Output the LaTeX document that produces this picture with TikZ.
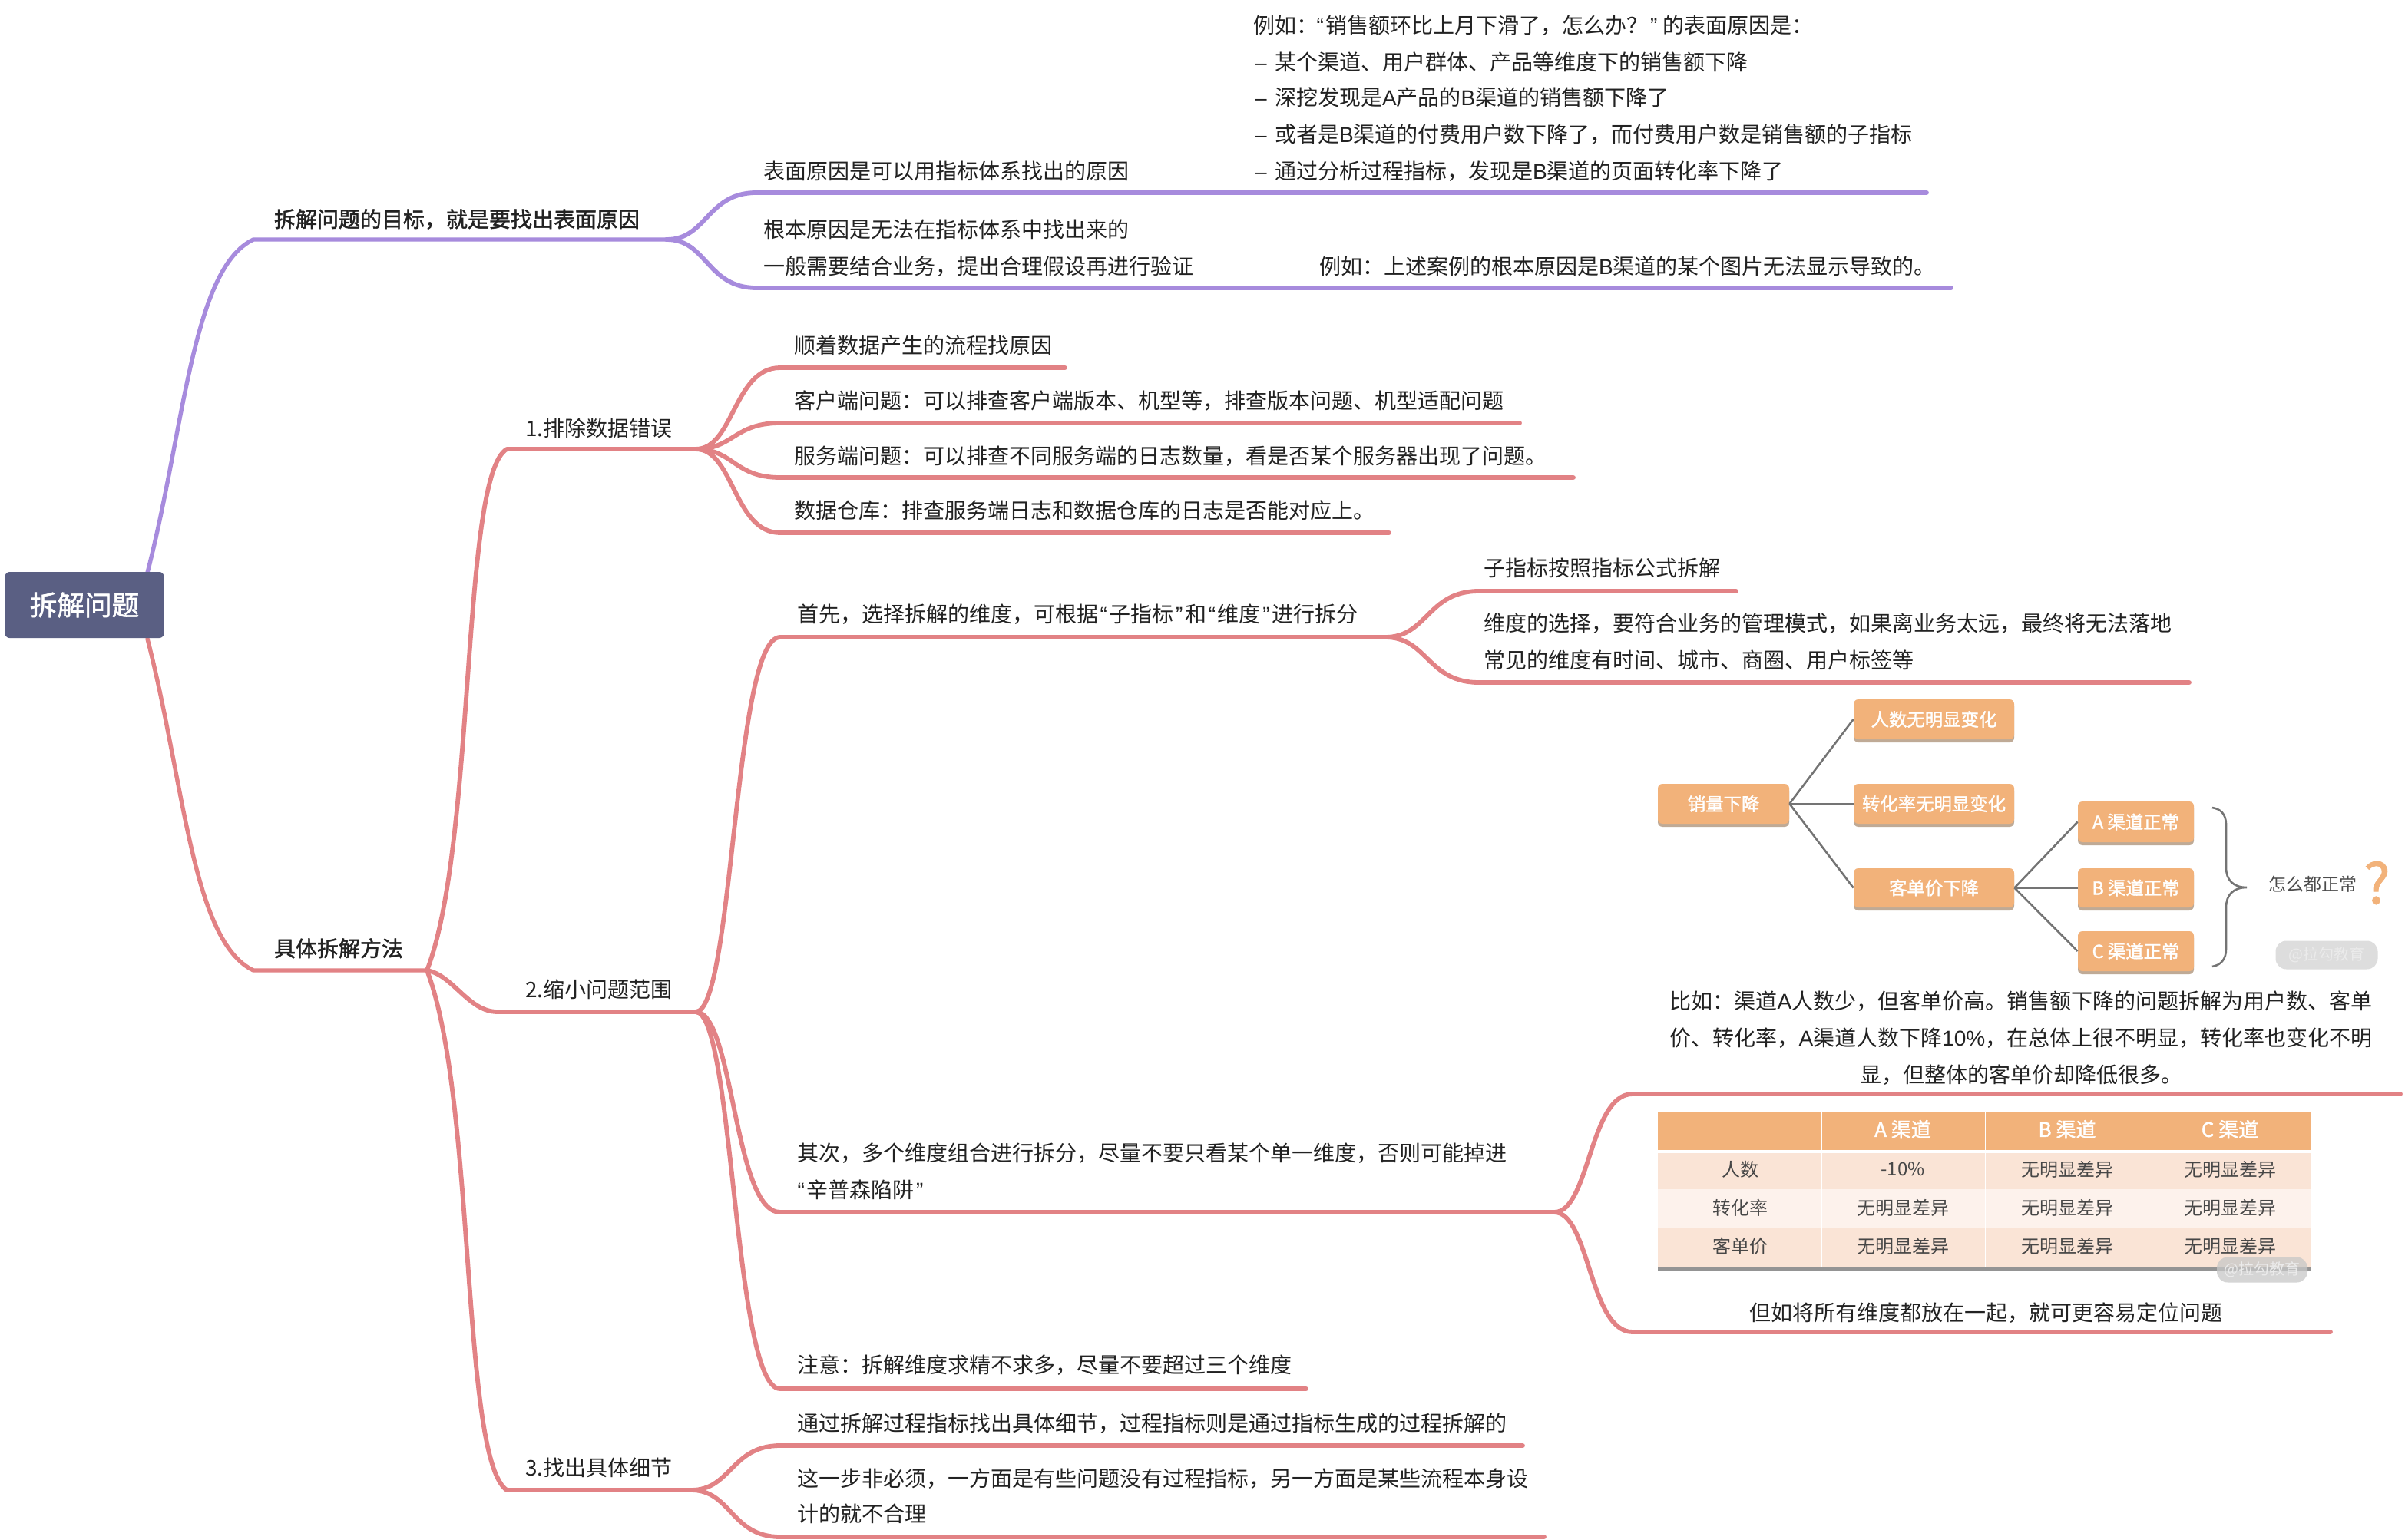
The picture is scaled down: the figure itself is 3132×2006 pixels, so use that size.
\documentclass[tikz,border=0pt]{standalone}
\usepackage{fontspec}
\setmainfont{Noto Sans CJK SC}
\newfontfamily\medf[FakeBold=1.6]{Noto Sans CJK SC}
\newfontfamily\liber{Liberation Sans}
\usetikzlibrary{calc}
\definecolor{purp}{HTML}{A78BDD}
\definecolor{redl}{HTML}{E28285}
\definecolor{rootc}{HTML}{5A5F83}
\definecolor{ora}{HTML}{F2B27A}
\definecolor{orad}{HTML}{BFAA96}
\definecolor{rowa}{HTML}{FAE4D6}
\definecolor{rowb}{HTML}{FDF2EC}
\definecolor{tcol}{HTML}{222222}
\definecolor{flowl}{HTML}{747474}
\definecolor{wmgrey}{HTML}{DDDDDD}
\newcommand{\lat}[1]{{\liber #1}}
\newcommand{\qo}{\makebox[0.52em][c]{\liber “}}
\newcommand{\qc}{\makebox[0.52em][c]{\liber ”}}
\newcommand{\dsh}{\makebox[13pt][l]{\liber –}}
\newcommand{\mlink}[4]{\draw[mline,#4] (#1) .. controls ($(#1)!0.45!(#1-|#2)$) and ($(#2)!0.55!(#2-|#1)$) .. (#2) -- (#3);}
\tikzset{
  x=0.5pt,y=-0.5pt,
  mline/.style={line width=2.9pt,line cap=round,line join=round},
  txt/.style={anchor=base west,inner sep=0pt,outer sep=0pt,text=tcol,font=\fontsize{14}{14}\selectfont},
  txtc/.style={txt,anchor=base},
  strong/.style={font=\fontsize{14}{14}\selectfont\medf},
  flowbox/.style={rectangle,rounded corners=3pt,fill=ora,text=white,inner sep=0pt,font=\fontsize{11.7}{12}\selectfont\medf},
  flowline/.style={draw=flowl,line width=1.3pt},
  cell/.style={inner sep=0pt,text=black!72,font=\fontsize{12}{12}\selectfont},
  head/.style={inner sep=0pt,text=white,font=\fontsize{13}{13}\selectfont\medf},
  wm/.style={rectangle,rounded corners=7pt,inner sep=0pt,text=white!92!black,font=\fontsize{10}{10}\selectfont}
}
\begin{document}
\begin{tikzpicture}
\useasboundingbox (0,0) rectangle (3132,2006);
\fill[white] (0,0) rectangle (3132,2006);
% coordinates for connectors
\coordinate (a0) at (330,312); \coordinate (a1) at (868,312);
\coordinate (a2) at (985,251); \coordinate (a3) at (2509,251);
\coordinate (a4) at (985,375); \coordinate (a5) at (2541,375);
\coordinate (b0) at (330,1264); \coordinate (b1) at (556,1264);
\coordinate (c0) at (660,585); \coordinate (c1) at (906,585);
\coordinate (c2) at (648,1318); \coordinate (c3) at (906,1318);
\coordinate (c4) at (660,1941); \coordinate (c5) at (900,1941);
\foreach \n/\y/\e in {d1/479/1387,d2/551/1979,d3/622/2049,d4/694/1809}{
  \coordinate (\n) at (1016,\y); \coordinate (\n e) at (\e,\y);}
\foreach \n/\y/\e in {f1/830/1804,f2/1579/2024,f3/1809/1701}{
  \coordinate (\n) at (1016,\y); \coordinate (\n e) at (\e,\y);}
\coordinate (g1) at (1926,770); \coordinate (g1e) at (2261,770);
\coordinate (g2) at (1926,889); \coordinate (g2e) at (2851,889);
\coordinate (h1) at (2126,1425); \coordinate (h1e) at (3126,1425);
\coordinate (h2) at (2126,1735); \coordinate (h2e) at (3035,1735);
\coordinate (i1) at (1016,1883); \coordinate (i1e) at (1983,1883);
\coordinate (i2) at (1016,2002); \coordinate (i2e) at (2011,2002);
% main links
\coordinate (ru) at (192,746);
\coordinate (rd) at (192,832);
\draw[mline,purp,line width=2.7pt] (ru) .. controls (240,560) and (250,350) .. (a0) -- (a1);
\draw[mline,redl,line width=2.7pt] (rd) .. controls (240,1018) and (250,1226) .. (b0) -- (b1);
% root
\node[rectangle,rounded corners=3pt,fill=rootc,text=white,minimum width=103.5pt,minimum height=43pt,inner sep=0pt,font=\fontsize{17.8}{18}\selectfont\medf] (root) at (110,788) {拆解问题};
\mlink{a1}{a2}{a3}{purp}
\mlink{a1}{a4}{a5}{purp}
\draw[mline,redl] (b1) .. controls (620,1100) and (600,620) .. (c0) -- (c1);
\draw[mline,redl] (b1) .. controls (590,1270) and (610,1318) .. (c2) -- (c3);
\draw[mline,redl] (b1) .. controls (620,1430) and (600,1900) .. (c4) -- (c5);
\foreach \n in {d1,d2,d3,d4}{\mlink{c1}{\n}{\n e}{redl}}
\foreach \n in {f1,f2,f3}{\mlink{c3}{\n}{\n e}{redl}}
\mlink{f1e}{g1}{g1e}{redl}
\mlink{f1e}{g2}{g2e}{redl}
\mlink{f2e}{h1}{h1e}{redl}
\mlink{f2e}{h2}{h2e}{redl}
\mlink{c5}{i1}{i1e}{redl}
\mlink{c5}{i2}{i2e}{redl}
% texts
\node[txt] (t01) at (1632,44) {例如：\kern-2pt\qo 销售额环比上月下滑了，怎么办？\qc\kern2pt 的表面原因是：};
\node[txt] (t02) at (1634,92) {\dsh 某个渠道、用户群体、产品等维度下的销售额下降};
\node[txt] (t03) at (1634,138) {\dsh 深挖发现是\lat{A}产品的\lat{B}渠道的销售额下降了};
\node[txt] (t04) at (1634,186) {\dsh 或者是\lat{B}渠道的付费用户数下降了，而付费用户数是销售额的子指标};
\node[txt] (t05) at (1634,234) {\dsh 通过分析过程指标，发现是\lat{B}渠道的页面转化率下降了};
\node[txt] (t06) at (994,234) {表面原因是可以用指标体系找出的原因};
\node[txt,strong] (t07) at (357,296) {拆解问题的目标，就是要找出表面原因};
\node[txt] (t08) at (994,310) {根本原因是无法在指标体系中找出来的};
\node[txt] (t09) at (994,358) {一般需要结合业务，提出合理假设再进行验证};
\node[txt] (t10) at (1718,358) {例如：上述案例的根本原因是\lat{B}渠道的某个图片无法显示导致的。};
\node[txt] (t11) at (684,568) {1.排除数据错误};
\node[txt] (t12) at (1034,460) {顺着数据产生的流程找原因};
\node[txt] (t13) at (1034,532) {客户端问题：可以排查客户端版本、机型等，排查版本问题、机型适配问题};
\node[txt] (t14) at (1034,604) {服务端问题：可以排查不同服务端的日志数量，看是否某个服务器出现了问题。};
\node[txt] (t15) at (1034,675) {数据仓库：排查服务端日志和数据仓库的日志是否能对应上。};
\node[txt] (t16) at (1038,810) {首先，选择拆解的维度，可根据\qo 子指标\qc 和\qo 维度\qc 进行拆分};
\node[txt] (t17) at (1932,750) {子指标按照指标公式拆解};
\node[txt] (t18) at (1932,822) {维度的选择，要符合业务的管理模式，如果离业务太远，最终将无法落地};
\node[txt] (t19) at (1932,870) {常见的维度有时间、城市、商圈、用户标签等};
\node[txt,strong] (t20) at (357,1246) {具体拆解方法};
\node[txt] (t21) at (684,1299) {2.缩小问题范围};
\node[txt] (t22) at (1038,1512) {其次，多个维度组合进行拆分，尽量不要只看某个单一维度，否则可能掉进};
\node[txt] (t23) at (1036,1560) {\qo 辛普森陷阱\qc};
\node[txt] (t24) at (1038,1788) {注意：拆解维度求精不求多，尽量不要超过三个维度};
\node[txt] (t25) at (684,1922) {3.找出具体细节};
\node[txt] (t26) at (1038,1864) {通过拆解过程指标找出具体细节，过程指标则是通过指标生成的过程拆解的};
\node[txt] (t27) at (1038,1936) {这一步非必须，一方面是有些问题没有过程指标，另一方面是某些流程本身设};
\node[txt] (t28) at (1038,1982) {计的就不合理};
\node[txtc] (t29) at (2632,1314) {比如：渠道\lat{A}人数少，但客单价高。销售额下降的问题拆解为用户数、客单};
\node[txtc] (t30) at (2632,1362) {价、转化率，\lat{A}渠道人数下降\lat{10\%}，在总体上很不明显，转化率也变化不明};
\node[txtc] (t31) at (2632,1410) {显，但整体的客单价却降低很多。};
\node[txtc] (t32) at (2586,1720) {但如将所有维度都放在一起，就可更容易定位问题};
% flow chart
\foreach \n/\xa/\xb/\ya/\yb/\s in {
 sales/2159/2330/1021/1073/销量下降,
 people/2414/2623/911/963/人数无明显变化,
 conv/2414/2623/1021/1073/转化率无明显变化,
 price/2414/2623/1131/1182/客单价下降,
 cha/2706/2857/1044/1097/A 渠道正常,
 chb/2706/2857/1131/1182/B 渠道正常,
 chc/2706/2857/1213/1265/C 渠道正常}{
  \fill[orad,rounded corners=3pt] (\xa,\ya+3) rectangle (\xb,\yb+4);
  \pgfmathsetmacro{\cx}{(\xa+\xb)/2}\pgfmathsetmacro{\cy}{(\ya+\yb)/2}
  \pgfmathsetmacro{\bw}{(\xb-\xa)*0.5}\pgfmathsetmacro{\bh}{(\yb-\ya)*0.5}
  \node[flowbox,minimum width=\bw pt,minimum height=\bh pt] (\n) at (\cx,\cy) {\s};
}
\draw[flowline] (sales.east) -- (people.west);
\draw[flowline] (sales.east) -- (conv.west);
\draw[flowline] (sales.east) -- (price.west);
\draw[flowline] (price.east) -- (cha.west);
\draw[flowline] (price.east) -- (chb.west);
\draw[flowline] (price.east) -- (chc.west);
\draw[flowline] (2881,1052) .. controls (2892,1054) and (2899,1060) .. (2899,1075) -- (2899,1130) .. controls (2899,1146) and (2908,1156) .. (2926,1156) .. controls (2908,1156) and (2899,1166) .. (2899,1182) -- (2899,1236) .. controls (2899,1250) and (2892,1257) .. (2881,1259);
\node[anchor=base west,inner sep=0pt,text=black!70,font=\fontsize{11.5}{12}\selectfont] (allok) at (2954,1160) {怎么都正常};
\node[anchor=base west,inner sep=0pt,text=ora,font=\fontsize{36}{36}\selectfont\medf] (qm) at (3078,1177) {?};
\node[wm,fill=wmgrey,minimum width=66.5pt,minimum height=18.5pt] (wm1) at (3030,1244) {@拉勾教育};
% table
\fill[black!42] (2159,1648) rectangle (3010,1655);
\fill[ora] (2159,1448) rectangle (3010,1498);
\fill[rowa] (2159,1502) rectangle (3010,1549);
\fill[rowb] (2159,1549) rectangle (3010,1600);
\fill[rowa] (2159,1600) rectangle (3010,1651);
\foreach \x in {2372,2585,2798}{\draw[white,line width=0.5pt] (\x,1448) -- (\x,1651);}
\node[head] (ha) at (2478,1471) {A 渠道};
\node[head] (hb) at (2692,1471) {B 渠道};
\node[head] (hc) at (2904,1471) {C 渠道};
\node[cell] (r1) at (2266,1523) {人数};
\node[cell] (r2) at (2266,1573) {转化率};
\node[cell] (r3) at (2266,1623) {客单价};
\node[cell] (a11) at (2478,1523) {-10\%};
\node[cell] (a12) at (2692,1523) {无明显差异};
\node[cell] (a13) at (2904,1523) {无明显差异};
\node[cell] (a21) at (2478,1573) {无明显差异};
\node[cell] (a22) at (2692,1573) {无明显差异};
\node[cell] (a23) at (2904,1573) {无明显差异};
\node[cell] (a31) at (2478,1623) {无明显差异};
\node[cell] (a32) at (2692,1623) {无明显差异};
\node[cell] (a33) at (2904,1623) {无明显差异};
\node[wm,fill=black!22,fill opacity=0.75,text opacity=1,minimum width=59pt,minimum height=16.5pt] (wm2) at (2946,1654) {@拉勾教育};
\end{tikzpicture}
\end{document}
